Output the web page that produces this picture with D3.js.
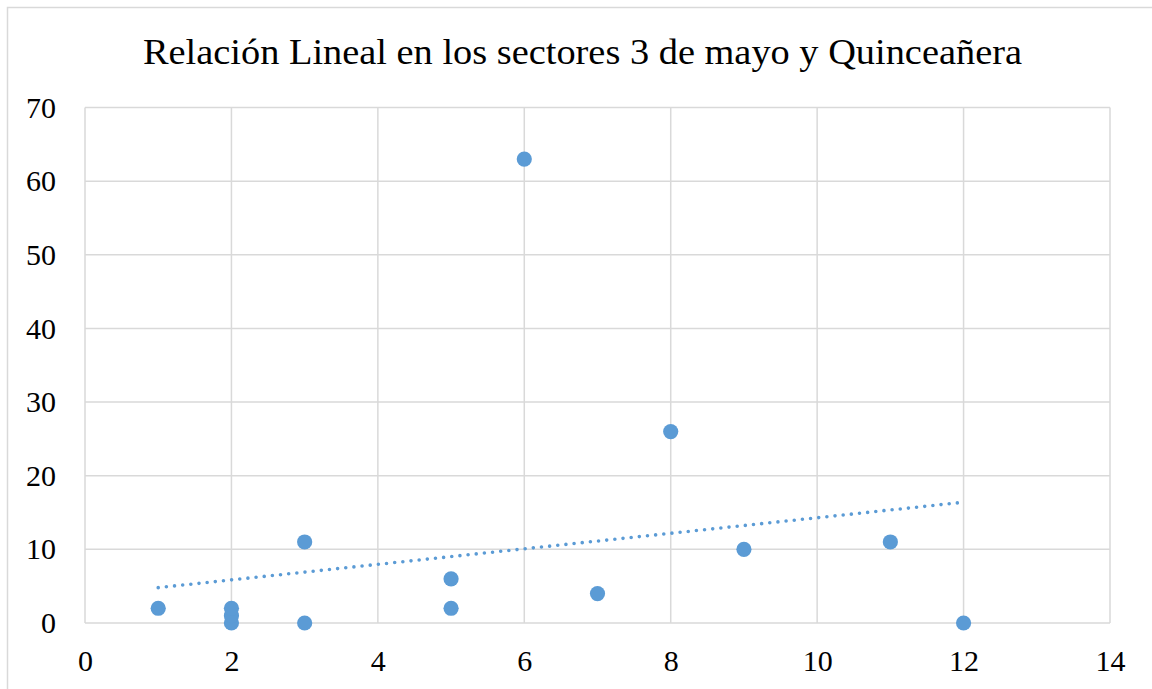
<!DOCTYPE html>
<html><head><meta charset="utf-8">
<script src="https://cdn.jsdelivr.net/npm/d3@7"></script>
<style>body{margin:0;background:#fff}svg{display:block}</style>
</head><body>
<svg id="c" width="1152" height="689"></svg>
<script>
const xValues = [1, 2, 2, 2, 3, 3, 5, 5, 6, 7, 8, 9, 11, 12];
const yValues = [2, 0, 1, 2, 11, 0, 6, 2, 63, 4, 26, 10, 11, 0];
const trendX = [1, 12];
const trendY = [4.8, 16.4];
const xTicks = [0, 2, 4, 6, 8, 10, 12, 14];
const yTicks = [0, 10, 20, 30, 40, 50, 60, 70];
const title = "Relación Lineal en los sectores 3 de mayo y Quinceañera";

(function () {
const svg = d3.select("#c");
const W = 1152, H = 689;
const mLeft = 85, mRight = 1110, mTop = 107.5, mBottom = 623;
const x = d3.scaleLinear().domain([0, 14]).range([mLeft, mRight]);
const y = d3.scaleLinear().domain([0, 70]).range([mBottom, mTop]);
const font = "Liberation Serif";
const blue = "#5b9bd5";

// chart border
svg.append("rect").attr("x", 7.5).attr("y", 7.5).attr("width", W - 5).attr("height", H)
  .attr("fill", "none").attr("stroke", "#d9d9d9").attr("stroke-width", 1.5);

svg.append("text").attr("x", 582.5).attr("y", 63.5).attr("text-anchor", "middle")
  .style("font-family", font).style("font-size", "36px").attr("fill", "#000")
  .attr("textLength", 879).attr("lengthAdjust", "spacingAndGlyphs").text(title);

// grid
const g = svg.append("g");
g.selectAll(".vx").data(xTicks).join("line")
  .attr("x1", d => x(d)).attr("x2", d => x(d)).attr("y1", mTop).attr("y2", mBottom)
  .attr("stroke", "#d9d9d9").attr("stroke-width", 1.5);
g.selectAll(".hy").data(yTicks).join("line")
  .attr("x1", mLeft).attr("x2", mRight).attr("y1", d => y(d)).attr("y2", d => y(d))
  .attr("stroke", "#d9d9d9").attr("stroke-width", 1.5);

// axes labels via d3 axes
const xAxis = svg.append("g").attr("transform", `translate(0,${mBottom})`)
  .call(d3.axisBottom(x).tickValues(xTicks).tickSize(0).tickPadding(27).tickFormat(d3.format("d")));
const yAxis = svg.append("g").attr("transform", `translate(${mLeft},0)`)
  .call(d3.axisLeft(y).tickValues(yTicks).tickSize(0).tickPadding(29).tickFormat(d3.format("d")));
[xAxis, yAxis].forEach(a => {
  a.attr("font-family", null).attr("font-size", null);
  a.select(".domain").remove();
  a.selectAll("text").style("font-family", font).style("font-size", "30px").attr("fill", "#000");
});

// trendline
svg.append("line")
  .attr("x1", x(trendX[0])).attr("y1", y(trendY[0]))
  .attr("x2", x(trendX[1])).attr("y2", y(trendY[1]))
  .attr("stroke", blue).attr("stroke-width", 3.6).attr("stroke-linecap", "round")
  .attr("stroke-dasharray", "0,8.2");

// points
svg.append("g").selectAll("circle").data(xValues.map((v, i) => [v, yValues[i]])).join("circle")
  .attr("cx", d => x(d[0])).attr("cy", d => y(d[1])).attr("r", 7.6).attr("fill", blue);
})();
</script>
</body></html>
